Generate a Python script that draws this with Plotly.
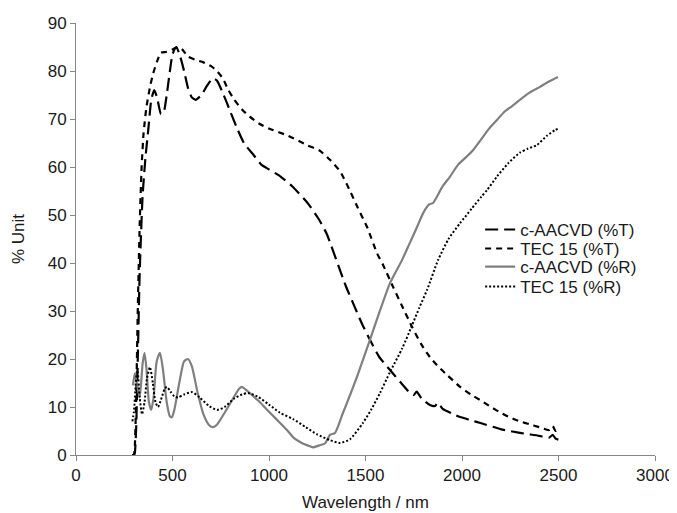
import plotly.graph_objects as go

# c-AACVD (%T)
caacvd_t_x = [290, 300, 305, 312, 320, 330, 345, 360, 375, 390, 405, 420, 440, 455, 470, 485, 500, 520, 540, 560, 580, 600, 620, 650, 680, 710, 730, 760, 800, 830, 870, 920, 960, 1000, 1060, 1120, 1200, 1260, 1300, 1358, 1400, 1435, 1480, 1523, 1570, 1627, 1680, 1731, 1750, 1765, 1790, 1834, 1860, 1875, 1900, 1950, 1990, 2050, 2100, 2200, 2300, 2400, 2450, 2470, 2485, 2500]
caacvd_t_y = [0, 0, 0.5, 6, 20, 38, 54, 62, 68, 74, 76, 74.5, 71, 71.5, 75, 79.5, 83.5, 85, 83, 80, 76.5, 74.5, 74, 75, 77, 78.5, 78, 75.5, 71.5, 68.5, 65, 62.5, 60.5, 59.5, 58, 56, 52.5, 49, 46, 39.6, 35, 31.7, 27.5, 24, 20.5, 17.7, 15.2, 12.9, 12.5, 13.2, 11.8, 10.4, 10.2, 10.9, 9.6, 8.6, 7.9, 7.2, 6.6, 5.4, 4.6, 4.0, 3.6, 4.2, 3.4, 3.2]

# TEC 15 (%T)
tec_t_x = [290, 300, 305, 312, 320, 330, 340, 350, 365, 385, 400, 420, 440, 470, 500, 525, 550, 580, 620, 660, 700, 730, 760, 790, 820, 860, 900, 950, 1000, 1100, 1200, 1260, 1316, 1370, 1420, 1460, 1508, 1560, 1591, 1643, 1690, 1741, 1790, 1834, 1880, 1922, 1990, 2050, 2100, 2150, 2200, 2250, 2300, 2350, 2400, 2450, 2470, 2485, 2500]
tec_t_y = [0, 0, 2, 12, 30, 48, 60, 67, 72.5, 77, 79.5, 82, 83.8, 84, 84.5, 85, 84.5, 83, 82.3, 81.8, 81, 80, 78.5, 76, 74, 72, 70.5, 69, 68, 66.5, 64.5, 63.5, 61.5, 59, 55, 51.5, 47.5, 42, 39.6, 35, 31, 26.7, 23, 20.4, 18.3, 16.7, 14.2, 12.5, 11.3, 10, 8.8, 7.8, 7, 6.4, 5.8, 5.2, 6.0, 5.0, 5.3]

# c-AACVD (%R)
caacvd_r_x = [295, 305, 315, 330, 345, 355, 365, 378, 390, 402, 418, 435, 450, 470, 487, 497, 510, 535, 560, 580, 600, 630, 660, 690, 710, 730, 770, 810, 845, 860, 880, 920, 953, 1000, 1050, 1093, 1130, 1170, 1200, 1228, 1260, 1290, 1316, 1342, 1383, 1420, 1456, 1490, 1523, 1570, 1627, 1689, 1730, 1767, 1800, 1830, 1850, 1870, 1900, 1938, 1980, 2020, 2057, 2100, 2140, 2181, 2220, 2260, 2300, 2350, 2404, 2450, 2497]
caacvd_r_y = [14.5, 17, 15, 12, 19, 21.3, 18, 11, 9.4, 12, 19.5, 21.3, 18, 11, 8, 7.9, 9.5, 15, 19.5, 20, 18.5, 13, 8.5, 6.2, 5.8, 6.3, 8.8, 11.5, 13.8, 14.2, 13.6, 12.2, 11, 9, 7, 5.2, 3.5, 2.5, 2, 1.6, 2, 2.4, 4.2, 4.6, 8.75, 12.5, 16.3, 20.2, 24, 29.5, 35.8, 40.6, 44.2, 47.5, 50.5, 52.2, 52.5, 53.8, 56, 58, 60.5, 62, 63.5, 65.8, 68, 69.8, 71.5, 72.7, 74, 75.5, 76.7, 77.8, 78.75]

# TEC 15 (%R)
tec_r_x = [292, 300, 310, 318, 330, 342, 355, 368, 383, 398, 412, 425, 440, 460, 471, 490, 510, 528, 560, 601, 640, 690, 731, 770, 820, 860, 891, 940, 1000, 1057, 1124, 1190, 1249, 1316, 1368, 1420, 1487, 1530, 1575, 1627, 1690, 1741, 1780, 1819, 1876, 1930, 1990, 2050, 2100, 2130, 2181, 2240, 2300, 2340, 2389, 2440, 2482, 2500]
tec_r_y = [7, 9, 15, 18, 12, 8.5, 11, 16, 18.3, 15, 11, 10, 11.5, 13.8, 14.2, 13.2, 12.2, 12, 12.6, 13.1, 12, 10.2, 9.4, 10, 11.8, 12.6, 12.9, 12.2, 10.5, 8.8, 7.5, 5.8, 4.3, 3.1, 2.5, 3.3, 6.7, 9.5, 12.9, 17.3, 22.2, 27, 30.8, 34.4, 40.6, 45, 48.3, 51.3, 53.8, 55.2, 58, 60.8, 63, 63.8, 64.6, 66.5, 67.7, 68]

x_ticks = [0, 500, 1000, 1500, 2000, 2500, 3000]
y_ticks = [0, 10, 20, 30, 40, 50, 60, 70, 80, 90]

FONT = "Liberation Sans, Arial"
TXT = "#1a1a1a"

fig = go.Figure()
fig.add_trace(go.Scatter(x=caacvd_t_x, y=caacvd_t_y, mode="lines", name="c-AACVD (%T)", legend="legend",
                         line=dict(color="black", width=2.2, dash="13px,6px", shape="spline", smoothing=0.5)))
fig.add_trace(go.Scatter(x=tec_t_x, y=tec_t_y, mode="lines", name="TEC 15 (%T)", legend="legend2",
                         line=dict(color="black", width=2.2, dash="6px,5px", shape="spline", smoothing=0.5)))
fig.add_trace(go.Scatter(x=caacvd_r_x, y=caacvd_r_y, mode="lines", name="c-AACVD (%R)", legend="legend3",
                         line=dict(color="#7f7f7f", width=2.2, shape="spline", smoothing=0.6)))
fig.add_trace(go.Scatter(x=tec_r_x, y=tec_r_y, mode="lines", name="TEC 15 (%R)", legend="legend4",
                         line=dict(color="black", width=2, dash="2px,2px", shape="spline", smoothing=0.6)))

axis_common = dict(showgrid=False, zeroline=False, showline=True, linecolor="#868686",
                   linewidth=1, ticks="outside", ticklen=5, tickcolor="#868686", automargin=False,
                   tickfont=dict(family=FONT, size=17, color=TXT))

fig.update_xaxes(range=[0, 3000], tickvals=x_ticks, **axis_common)
fig.update_yaxes(range=[0, 90], tickvals=y_ticks, **axis_common)

def leg(ypos):
    return dict(x=0.698, y=ypos, xanchor="left", yanchor="middle",
                font=dict(family=FONT, size=17, color=TXT),
                bgcolor="rgba(0,0,0,0)", itemwidth=30)

# the page body adds an 8px offset, so margins are reduced accordingly
fig.update_layout(
    width=677, height=513,
    margin=dict(l=68, r=30, t=15, b=66, autoexpand=False),
    plot_bgcolor="white", paper_bgcolor="white",
    showlegend=True,
    legend=leg(0.521), legend2=leg(0.477), legend3=leg(0.435), legend4=leg(0.389),
    annotations=[
        dict(text="Wavelength / nm", xref="paper", yref="paper", x=0.5, y=0, xanchor="center",
             yanchor="top", yshift=-36, showarrow=False, font=dict(family=FONT, size=17, color=TXT)),
        dict(text="% Unit", xref="paper", yref="paper", x=0, y=0.5, xanchor="center",
             yanchor="middle", xshift=-58, textangle=-90, showarrow=False,
             font=dict(family=FONT, size=17, color=TXT)),
    ],
)

fig.write_html("out.html")
